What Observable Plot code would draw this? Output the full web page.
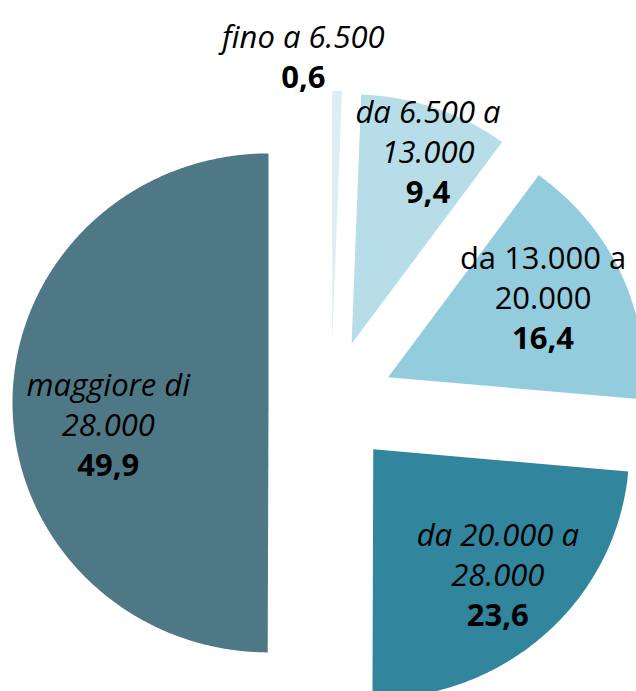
<!DOCTYPE html>
<html><head><meta charset="utf-8">
<script src="https://cdn.jsdelivr.net/npm/d3@7"></script>
<script src="https://cdn.jsdelivr.net/npm/@observablehq/plot@0.6"></script>
<style>html,body{margin:0;padding:0;background:#fff;overflow:hidden}</style>
</head><body><div id="chart"></div>
<script>
// ---- data ----
const categories = ["fino a 6.500", "da 6.500 a 13.000", "da 13.000 a 20.000", "da 20.000 a 28.000", "maggiore di 28.000"];
const labelLines = [["fino a 6.500"], ["da 6.500 a", "13.000"], ["da 13.000 a", "20.000"], ["da 20.000 a", "28.000"], ["maggiore di", "28.000"]];
const values = [0.6, 9.4, 16.4, 23.6, 49.9];
const valueLabels = ["0,6", "9,4", "16,4", "23,6", "49,9"];

// ---- style ----
const colors = ["#dbeef4", "#b7dee8", "#93cddd", "#31859c", "#4f7886"];
const italic = [true, true, false, true, true];
const W = 636, H = 691;
const cx = 330.6, cy = 402.5, RX = 256, RY = 249.5, explode = 62.6;
const labelPos = [{a: -4.6, r: 346}, {a: 21.2, r: 268}, {a: 63.9, r: 236}, {a: 136, r: 240}, {a: 264, r: 224}];
const lineH = 40;
const font = "Open Sans";
const fontSize = 31;

const arcs = d3.pie().sort(null).value(d => d)(values);

const poly = [];
arcs.forEach((arc, i) => {
  const mid = (arc.startAngle + arc.endAngle) / 2;
  const ox = cx + explode * Math.sin(mid), oy = cy - explode * Math.cos(mid);
  poly.push({cat: categories[i], x: ox, y: oy});
  const n = Math.max(2, Math.ceil((arc.endAngle - arc.startAngle) / 0.005));
  for (let k = 0; k <= n; k++) {
    const a = arc.startAngle + (arc.endAngle - arc.startAngle) * k / n;
    poly.push({cat: categories[i], x: ox + RX * Math.sin(a), y: oy - RY * Math.cos(a)});
  }
  poly.push({cat: categories[i], x: ox, y: oy});
});

const texts = [];
arcs.forEach((arc, i) => {
  const lp = labelPos[i];
  const a = lp.a * Math.PI / 180;
  const lx = cx + lp.r * Math.sin(a), ly = cy - lp.r * Math.cos(a);
  const lines = labelLines[i];
  const n = lines.length + 1;
  lines.forEach((t, k) => texts.push({x: lx, y: ly + (k - (n - 1) / 2) * lineH, text: t, kind: italic[i] ? "it" : "reg"}));
  texts.push({x: lx, y: ly + ((n - 1) - (n - 1) / 2) * lineH, text: valueLabels[i], kind: "val"});
});

const chart = Plot.plot({
  width: W, height: H, margin: 0,
  x: {domain: [0, W], range: [0, W], axis: null},
  y: {domain: [0, H], range: [0, H], axis: null},
  color: {domain: categories, range: colors},
  style: {fontFamily: font, background: "#fff"},
  marks: [
    Plot.line(poly, {x: "x", y: "y", z: "cat", fill: "cat", stroke: "none", clip: true}),
    Plot.text(texts.filter(d => d.kind === "it"), {x: "x", y: "y", text: "text", fontSize, fontStyle: "italic", fill: "#000", fontFamily: font}),
    Plot.text(texts.filter(d => d.kind === "reg"), {x: "x", y: "y", text: "text", fontSize, fill: "#000", fontFamily: font}),
    Plot.text(texts.filter(d => d.kind === "val"), {x: "x", y: "y", text: "text", fontSize, fontWeight: "bold", fill: "#000", fontFamily: font})
  ]
});
document.getElementById("chart").appendChild(chart);
</script>
</body></html>
